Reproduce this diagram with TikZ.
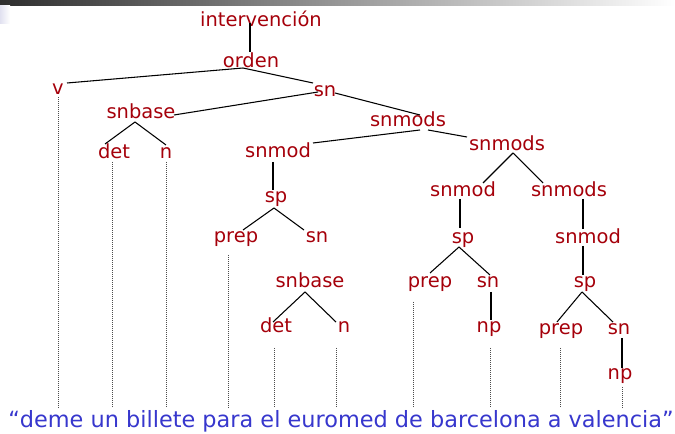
\documentclass[tikz,border=0pt]{standalone}
\usepackage{fontspec}
\setmainfont{DejaVu Sans}
\usetikzlibrary{calc}
\definecolor{lblred}{RGB}{165,0,10}
\definecolor{txtblue}{RGB}{55,55,205}
\definecolor{lav}{RGB}{225,225,240}
\begin{document}
\begin{tikzpicture}[x=0.75pt,y=-0.75pt,
 lbl/.style={text=lblred,font=\fontsize{14.6}{16}\selectfont,inner sep=0pt,anchor=base},
 edge/.style={line width=0.8pt,black},
 vedge/.style={line width=1.5pt,black},
 dots/.style={black!70,line width=0.75pt,dash pattern=on 0.75pt off 0.75pt}]
\useasboundingbox (0,0) rectangle (675,434);
\shade[left color=black!82,right color=white] (0,0) rectangle (675,6);
\shade[left color=lav,right color=white] (0,6) rectangle (10,24);
% nodes
\node[lbl] (i0) at (261,27) {intervención};
\node[lbl] (orden) at (251,68) {orden};
\node[lbl] (v) at (58,95) {v};
\node[lbl] (sn) at (325,97) {sn};
\node[lbl] (snbase) at (141,119) {snbase};
\node[lbl] (snmods) at (408,127) {snmods};
\node[lbl] (det) at (114,159) {det};
\node[lbl] (n) at (166,159) {n};
\node[lbl] (snmod) at (278,158) {snmod};
\node[lbl] (snmodsb) at (507,151) {snmods};
\node[lbl] (snmodb) at (463,197) {snmod};
\node[lbl] (snmodsc) at (569,197) {snmods};
\node[lbl] (sp) at (276,203) {sp};
\node[lbl] (prep) at (236,243) {prep};
\node[lbl] (sna) at (317,243) {sn};
\node[lbl] (spb) at (463,244) {sp};
\node[lbl] (snmodc) at (588,244) {snmod};
\node[lbl] (snbaseb) at (310,288) {snbase};
\node[lbl] (prepb) at (430,288) {prep};
\node[lbl] (snb) at (488,288) {sn};
\node[lbl] (spc) at (585,288) {sp};
\node[lbl] (detb) at (276,333) {det};
\node[lbl] (nb) at (344,333) {n};
\node[lbl] (npb) at (489,333) {np};
\node[lbl] (prepc) at (561,335) {prep};
\node[lbl] (snc) at (619,335) {sn};
\node[lbl] (npc) at (620,380) {np};
\node[anchor=base,text=txtblue,font=\fontsize{16.8}{18}\selectfont,inner sep=0pt] (sent) at (341,428) {“deme un billete para el euromed de barcelona a valencia”};
\coordinate (bot) at (0,408);
% tree edges
\draw[vedge] ($(i0.base)+(-11,-4)$) -- ($(orden.base)+(-1,-16)$);
\draw[edge] ($(orden.base)+(-8,0)$) -- ($(v.base)+(9,-12)$);
\draw[edge] ($(orden.base)+(-8,0)$) -- ($(sn.base)+(-12,-14)$);
\draw[edge] ($(sn.base)+(-7,-5)$) -- ($(snbase.base)+(33,-4)$);
\draw[edge] ($(sn.base)+(10,-4)$) -- ($(snmods.base)+(12,-12)$);
\draw[edge] ($(snmods.base)+(12,3)$) -- ($(snmod.base)+(35,-15)$);
\draw[edge] ($(snmods.base)+(20,3)$) -- ($(snmodsb.base)+(-40,-14)$);
\draw[edge] ($(snmodsb.base)+(6,2)$) -- ($(snmodb.base)+(20,-14)$);
\draw[edge] ($(snmodsb.base)+(6,2)$) -- ($(snmodsc.base)+(-26,-14)$);
\draw[vedge] ($(snmodb.base)+(-3,2)$) -- ($(spb.base)+(-3,-16)$);
\draw[vedge] ($(snmodsc.base)+(14,2)$) -- ($(snmodc.base)+(-5,-15)$);
\draw[vedge] ($(snmodc.base)+(-5,2)$) -- ($(spc.base)+(-2,-13)$);
\draw[edge] ($(spb.base)+(-4,3)$) -- ($(prepb.base)+(0,-15)$);
\draw[edge] ($(spb.base)+(-4,3)$) -- ($(snb.base)+(2,-13)$);
\draw[vedge] ($(snb.base)+(3,4)$) -- ($(npb.base)+(2,-13)$);
\draw[edge] ($(spc.base)+(-3,4)$) -- ($(prepc.base)+(-4,-13)$);
\draw[edge] ($(spc.base)+(-3,4)$) -- ($(snc.base)+(-6,-13)$);
\draw[vedge] ($(snc.base)+(3,3)$) -- ($(npc.base)+(2,-12)$);
\draw[vedge] ($(snmod.base)+(-5,4)$) -- ($(sp.base)+(-3,-13)$);
\draw[edge] ($(sp.base)+(-2,5)$) -- ($(prep.base)+(7,-13)$);
\draw[edge] ($(sp.base)+(-2,5)$) -- ($(sna.base)+(-13,-13)$);
\draw[edge] ($(snbaseb.base)+(-5,4)$) -- ($(detb.base)+(-3,-11)$);
\draw[edge] ($(snbaseb.base)+(-5,4)$) -- ($(nb.base)+(-8,-11)$);
\draw[edge] ($(snbase.base)+(-6,3)$) -- ($(det.base)+(-9,-15)$);
\draw[edge] ($(snbase.base)+(-6,3)$) -- ($(n.base)+(0,-14)$);
% dotted leaders
\draw[dots] ($(v.base)+(0,2)$) -- (v.base |- bot);
\draw[dots] ($(det.base)+(-2,3)$) -- ($(det.base |- bot)+(-2,0)$);
\draw[dots] ($(n.base)+(0,3)$) -- (n.base |- bot);
\draw[dots] ($(prep.base)+(-8,12)$) -- ($(prep.base |- bot)+(-8,0)$);
\draw[dots] ($(detb.base)+(-2,15)$) -- ($(detb.base |- bot)+(-2,0)$);
\draw[dots] ($(nb.base)+(-8,15)$) -- ($(nb.base |- bot)+(-8,0)$);
\draw[dots] ($(prepb.base)+(-17,14)$) -- ($(prepb.base |- bot)+(-17,0)$);
\draw[dots] ($(npb.base)+(1,15)$) -- ($(npb.base |- bot)+(1,0)$);
\draw[dots] ($(prepc.base)+(-1,13)$) -- ($(prepc.base |- bot)+(-1,0)$);
\draw[dots] ($(npc.base)+(2,7)$) -- ($(npc.base |- bot)+(2,0)$);
\end{tikzpicture}
\end{document}
